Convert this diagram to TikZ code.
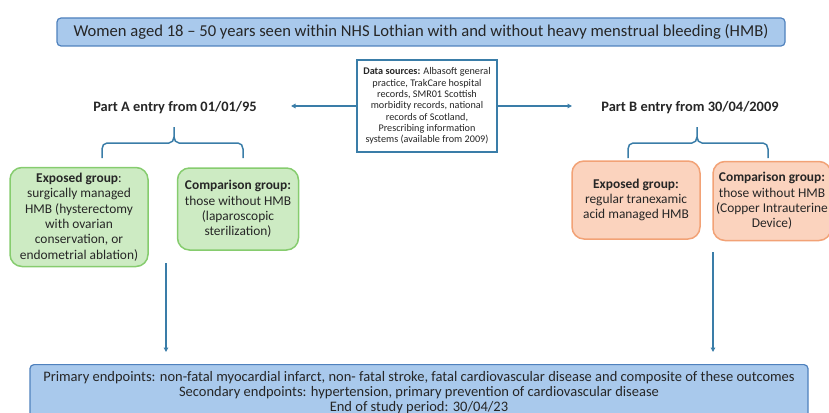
\documentclass[tikz,border=0pt]{standalone}
\usepackage{fontspec}
\setmainfont{Carlito}
\usetikzlibrary{arrows.meta}
\definecolor{bluefill}{HTML}{A9C9EC}
\definecolor{blueborder}{HTML}{4F81BD}
\definecolor{linec}{HTML}{3A7DA8}
\definecolor{greenfill}{HTML}{CDEBC3}
\definecolor{greenborder}{HTML}{86CC6E}
\definecolor{orfill}{HTML}{FBD3BE}
\definecolor{orborder}{HTML}{F2A276}
\definecolor{txt}{HTML}{262626}
\begin{document}
\begin{tikzpicture}[x=1pt,y=-1pt,
  every node/.style={text=txt},
  bluebox/.style={draw=blueborder, fill=bluefill, rounded corners=4pt, line width=1.2pt, align=center},
  dsbox/.style={draw=linec, fill=white, line width=1.2pt, align=center, inner sep=0pt, font=\fontsize{10.2}{11.3}\selectfont},
  greenbox/.style={draw=greenborder, fill=greenfill, rounded corners=12pt, line width=1.5pt, align=center, inner sep=0pt, font=\fontsize{13.4}{15.4}\selectfont},
  orbox/.style={draw=orborder, fill=orfill, rounded corners=12pt, line width=1.5pt, align=center, inner sep=0pt, font=\fontsize{13.4}{15.4}\selectfont},
  partlabel/.style={font=\bfseries\fontsize{14.4}{16}\selectfont},
  arr/.style={draw=linec, line width=1.2pt, -{Triangle[length=4.5pt,width=4.5pt]}},
  bracel/.style={draw=linec, line width=1.5pt}
]
\useasboundingbox (0,0) rectangle (829,412);
\clip (0,0) rectangle (829,412);

% top box
\node[bluebox, minimum width=728pt, minimum height=28pt, font=\fontsize{16.6}{18}\selectfont] (top) at (421,32)
  {Women aged 18 -- 50 years seen within NHS Lothian with and without heavy menstrual bleeding (HMB)};

% data sources
\node[dsbox, minimum width=140pt, minimum height=92pt] (ds) at (427,106)
  {\textbf{Data sources:} Albasoft general\\practice, TrakCare hospital\\records, SMR01 Scottish\\morbidity records, national\\records of Scotland,\\Prescribing information\\systems (available from 2009)};

% part labels
\node[partlabel] (partA) at (175,108) {Part A entry from 01/01/95};
\node[partlabel] (partB) at (690,108) {Part B entry from 30/04/2009};

\coordinate (aEnd) at (291,106);
\coordinate (bEnd) at (572,106);
\draw[arr] (ds.west) -- (aEnd);
\draw[arr] (ds.east) -- (bEnd);

% braces
\draw[bracel] (102,158) -- (102,149) to[out=90,in=180] (107,143) -- (169,143) to[out=0,in=-90] (174,137) -- (174,127);
\draw[bracel] (243,158) -- (243,149) to[out=90,in=0] (238,143) -- (179,143) to[out=180,in=-90] (174,137);
\draw[bracel] (628,158) -- (628,149) to[out=90,in=180] (633,143) -- (692,143) to[out=0,in=-90] (697,137) -- (697,127);
\draw[bracel] (768,158) -- (768,149) to[out=90,in=0] (763,143) -- (702,143) to[out=180,in=-90] (697,137);

% groups A
\node[greenbox, minimum width=138pt, minimum height=99pt] (expA) at (79,217)
  {\textbf{Exposed group}:\\surgically managed\\HMB (hysterectomy\\with ovarian\\conservation, or\\endometrial ablation)};
\node[greenbox, minimum width=121pt, minimum height=82pt] (compA) at (238,209)
  {\textbf{Comparison group:}\\those without HMB\\(laparoscopic\\sterilization)};

% groups B
\node[orbox, minimum width=128pt, minimum height=78pt] (expB) at (636,200)
  {\textbf{Exposed group:}\\regular tranexamic\\acid managed HMB};
\node[orbox, minimum width=118pt, minimum height=79pt] (compB) at (772,201)
  {\textbf{Comparison group:}\\those without HMB\\(Copper Intrauterine\\Device)};

% bottom box
\node[bluebox, anchor=north, minimum width=778pt, inner xsep=3pt, inner ysep=7pt, font=\fontsize{14.5}{15}\selectfont] (endp) at (419,364)
  {Primary endpoints: non-fatal myocardial infarct, non- fatal stroke, fatal cardiovascular disease and composite of these outcomes\\
   Secondary endpoints: hypertension, primary prevention of cardiovascular disease\\
   End of study period: 30/04/23};

% vertical arrows
\coordinate (aStart) at (166,263);
\coordinate (bStart) at (713,252);
\draw[arr, shorten >=12pt] (aStart) -- (aStart |- endp.north);
\draw[arr, shorten >=12pt] (bStart) -- (bStart |- endp.north);
\end{tikzpicture}
\end{document}
